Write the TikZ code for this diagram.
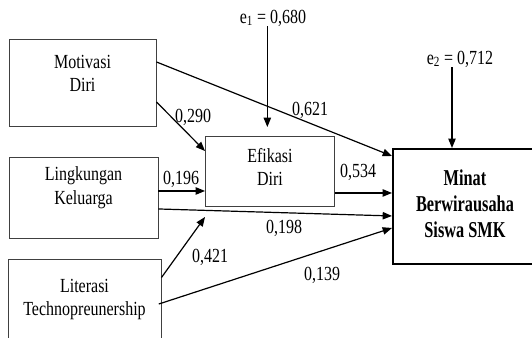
\documentclass[tikz,border=0pt]{standalone}
\usepackage{fontspec}
\setmainfont{Liberation Serif}[FakeStretch=0.8]
\newfontfamily\minatfont{Liberation Serif}[FakeStretch=0.72]
\usetikzlibrary{arrows.meta}

% box text: width, height, first baseline, lines
\newcommand{\boxtext}[4]{\parbox[c][#2][t]{#1}{\centering\rule{0pt}{#3}#4}}

\tikzset{
  varbox/.style={draw=black!75, line width=0.7pt, inner sep=0pt,
    font=\fontsize{15pt}{17.6pt}\selectfont},
  mainbox/.style={draw, line width=1.5pt, inner sep=0pt,
    font=\minatfont\bfseries\fontsize{17pt}{19.5pt}\selectfont},
  arr/.style={line width=0.9pt, -{Triangle[length=7pt,width=5.5pt]}},
  coef/.style={inner sep=0pt, font=\fontsize{15pt}{17pt}\selectfont}
}

\begin{document}
\begin{tikzpicture}[x=0.75pt,y=-0.75pt]
  \useasboundingbox (0,0) rectangle (532,337);
  % Variables
  \node[varbox] (motivasi) at (82.5,82.5)
    {\boxtext{110.25pt}{65.25pt}{22pt}{Motivasi\\Diri}};
  \node[varbox] (lingkungan) at (83.5,197.5)
    {\boxtext{111.75pt}{60.75pt}{17.8pt}{Lingkungan\\Keluarga}};
  \node[varbox] (literasi) at (84.5,302)
    {\boxtext{114.75pt}{64.5pt}{24.75pt}{Literasi\\Technopreunership}};
  \node[varbox] (efikasi) at (270,171.5)
    {\boxtext{96.75pt}{52.5pt}{19.5pt}{Efikasi\\Diri}};
  \node[mainbox] (minat) at (465,206.5)
    {\boxtext{108pt}{86.25pt}{27pt}{Minat\\Berwirausaha\\Siswa SMK}};
  % Errors
  \node[coef] (e1) at (273,18) {e\textsubscript{1} = 0,680};
  \node[coef] (e2) at (460,59) {e\textsubscript{2} = 0,712};
  \draw[arr] ([xshift=-2pt]efikasi.north |- e1.south) -- ([xshift=-2pt,yshift=6.75pt]efikasi.north);
  \draw[arr] ([xshift=-9.75pt]minat.north |- e2.south) -- ([xshift=-9.75pt]minat.north);
  % Paths
  \draw[arr] ([yshift=15.4pt]motivasi.east) -- ([yshift=-6pt]minat.north west);
  \draw[arr] ([yshift=-14.6pt]motivasi.east) -- ([yshift=-11.25pt]efikasi.north west);
  \draw[arr] ([yshift=4.9pt]lingkungan.east) coordinate (l1) -- (l1 -| efikasi.west);
  \draw[arr] ([yshift=-8.6pt]lingkungan.east) -- ([yshift=-7.1pt]minat.west);
  \draw[arr] ([yshift=-14.25pt]literasi.north east) -- ([yshift=-7.5pt]efikasi.south west);
  \draw[arr] ([xshift=-2pt,yshift=-1.5pt]literasi.east) -- ([yshift=-16.1pt]minat.west);
  \draw[arr] ([yshift=-16.1pt]efikasi.east) coordinate (f1) -- (f1 -| minat.west);
  % Coefficients
  \node[coef] (c621) at (310,110) {0,621};
  \node[coef] (c290) at (193,117) {0,290};
  \node[coef] (c196) at (181,179) {0,196};
  \node[coef] (c534) at (358,172) {0,534};
  \node[coef] (c198) at (284,228) {0,198};
  \node[coef] (c421) at (210,257) {0,421};
  \node[coef] (c139) at (322,275) {0,139};
\end{tikzpicture}
\end{document}
